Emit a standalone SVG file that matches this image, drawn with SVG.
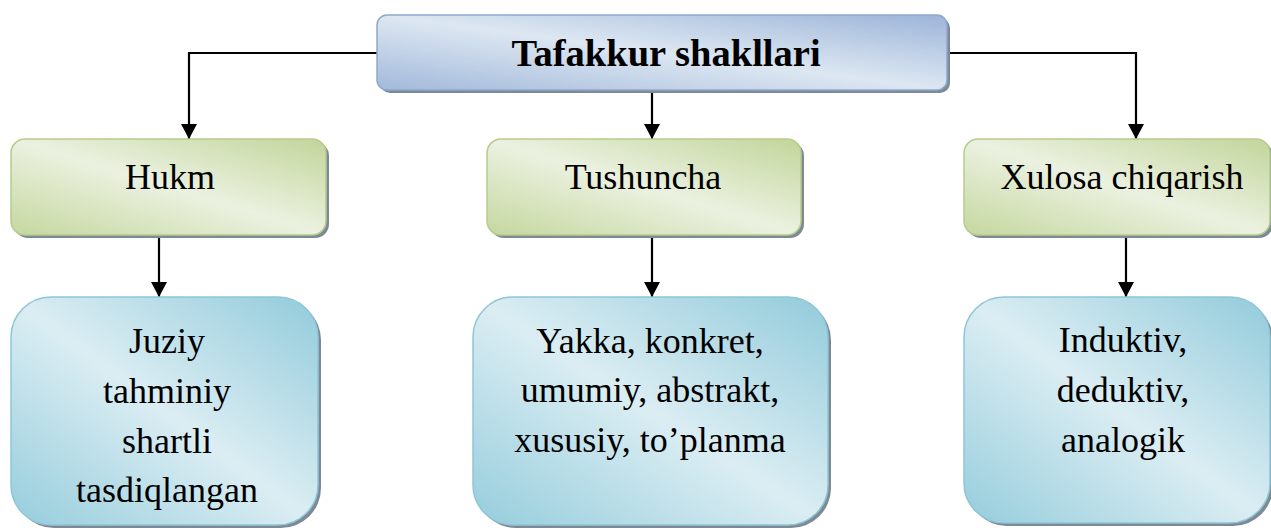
<svg xmlns="http://www.w3.org/2000/svg" width="1271" height="532" viewBox="0 0 1271 532">
<defs>
<linearGradient id="gTop" x1="1" y1="0" x2="0" y2="1">
<stop offset="0" stop-color="#9cb4d8"/><stop offset="0.5" stop-color="#dde7f2"/><stop offset="1" stop-color="#a2b9da"/>
</linearGradient>
<linearGradient id="gGreen" x1="1" y1="0" x2="0" y2="1">
<stop offset="0" stop-color="#c2d59a"/><stop offset="0.5" stop-color="#ebf1e0"/><stop offset="1" stop-color="#c5d79f"/>
</linearGradient>
<linearGradient id="gBlue" x1="1" y1="0" x2="0" y2="1">
<stop offset="0" stop-color="#92cbdb"/><stop offset="0.5" stop-color="#dbedf3"/><stop offset="1" stop-color="#95cddc"/>
</linearGradient>
<marker id="arr" viewBox="0 0 15 16" refX="15" refY="8" markerWidth="15" markerHeight="16" markerUnits="userSpaceOnUse" orient="auto">
<path d="M0,0 L15,8 L0,16 Z" fill="#000"/>
</marker>
</defs>
<style>
.t{font-family:"Liberation Serif","Times New Roman",serif;font-size:36px;fill:#000;text-anchor:middle}
.b{font-weight:bold;font-size:38.5px}
.sh{fill:#7d8a96}
.top{fill:url(#gTop);stroke:#8ea8cf;stroke-width:1.5}
.grn{fill:url(#gGreen);stroke:#b6cc8c;stroke-width:1.5}
.blu{fill:url(#gBlue);stroke:#8ec6d6;stroke-width:1.5}
.c{fill:none;stroke:#000;stroke-width:2.2;marker-end:url(#arr)}
</style>
<g id="connectors">
<path class="c" d="M377,53 H189 V139"/>
<path class="c" d="M947,53 H1136 V139"/>
<path class="c" d="M652,91 V139"/>
<path class="c" d="M159,236 V297"/>
<path class="c" d="M652,236 V297"/>
<path class="c" d="M1126,236 V297"/>
</g>
<g id="top">
<rect class="sh" x="380" y="18" width="570" height="75" rx="10"/>
<rect class="top" x="377" y="15" width="570" height="75" rx="10"/>
<text class="t b" x="666" y="66">Tafakkur shakllari</text>
</g>
<g id="hukm">
<rect class="sh" x="14" y="142" width="315" height="96" rx="14"/>
<rect class="grn" x="11" y="139" width="315" height="96" rx="14"/>
<text class="t" x="170" y="189">Hukm</text>
</g>
<g id="tushuncha">
<rect class="sh" x="490" y="142" width="314" height="96" rx="14"/>
<rect class="grn" x="487" y="139" width="314" height="96" rx="14"/>
<text class="t" x="643" y="189">Tushuncha</text>
</g>
<g id="xulosa">
<rect class="sh" x="967" y="142" width="306" height="96" rx="14"/>
<rect class="grn" x="964" y="139" width="306" height="96" rx="14"/>
<text class="t" x="1122" y="189">Xulosa chiqarish</text>
</g>
<g id="hukm-turlari">
<rect class="sh" x="14" y="300" width="307" height="228" rx="40"/>
<rect class="blu" x="11" y="297" width="307" height="228" rx="40"/>
<text class="t" x="167" y="353">Juziy</text>
<text class="t" x="167" y="403">tahminiy</text>
<text class="t" x="167" y="453">shartli</text>
<text class="t" x="167" y="502">tasdiqlangan</text>
</g>
<g id="tushuncha-turlari">
<rect class="sh" x="476" y="300" width="355" height="228" rx="40"/>
<rect class="blu" x="473" y="297" width="355" height="228" rx="40"/>
<text class="t" x="650" y="353">Yakka, konkret,</text>
<text class="t" x="650" y="402">umumiy, abstrakt,</text>
<text class="t" x="650" y="452">xususiy, to’planma</text>
</g>
<g id="xulosa-turlari">
<rect class="sh" x="967" y="300" width="306" height="226" rx="40"/>
<rect class="blu" x="964" y="297" width="306" height="226" rx="40"/>
<text class="t" x="1123" y="352">Induktiv,</text>
<text class="t" x="1123" y="402">deduktiv,</text>
<text class="t" x="1123" y="452">analogik</text>
</g>
</svg>
